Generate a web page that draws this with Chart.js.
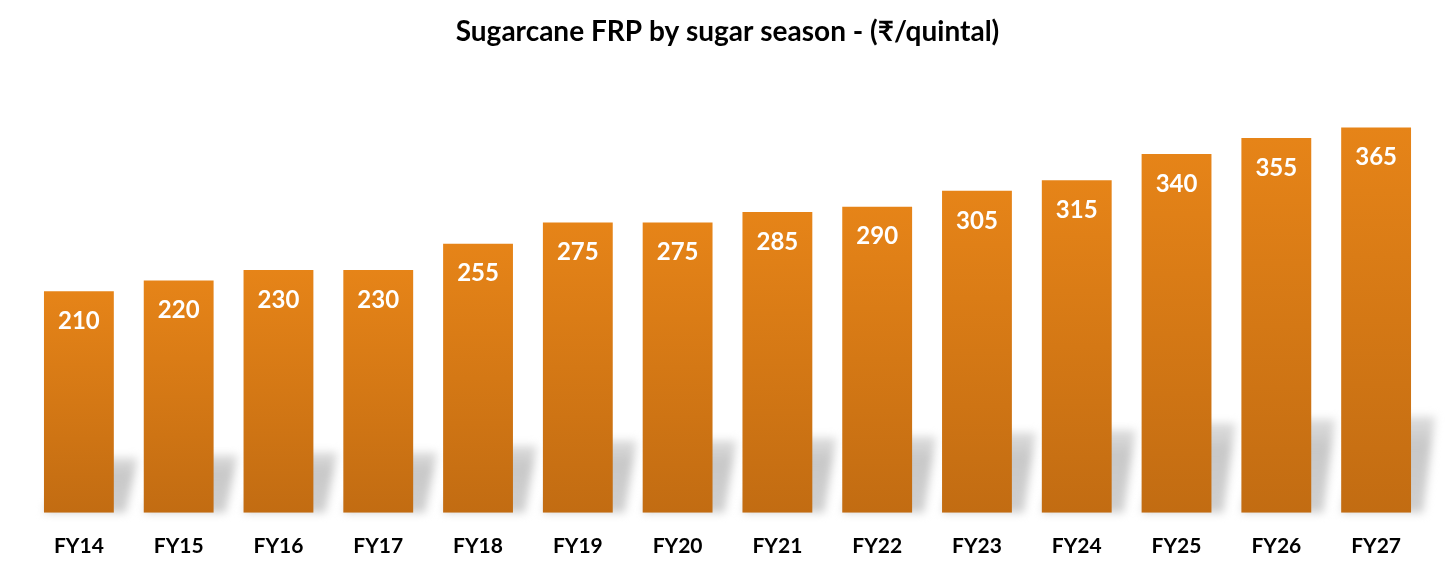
<!DOCTYPE html>
<html>
<head>
<meta charset="utf-8">
<script src="https://cdn.jsdelivr.net/npm/chart.js@4"></script>
<style>
  html, body { margin: 0; padding: 0; background: #fff; }
  #wrap { width: 1456px; height: 576px; }
</style>
</head>
<body>
<div id="wrap"><canvas id="frpChart"></canvas></div>
<script>
// === Donnees ===
const seasons = ['FY14', 'FY15', 'FY16', 'FY17', 'FY18', 'FY19', 'FY20', 'FY21', 'FY22', 'FY23', 'FY24', 'FY25', 'FY26', 'FY27'];
const frpValues = [210, 220, 230, 230, 255, 275, 275, 285, 290, 305, 315, 340, 355, 365];
const chartTitle = 'Sugarcane FRP by sugar season - (\u20B9/quintal)';

// === Ombres derriere les barres ===
const barShadows = {
  id: 'barShadows',
  beforeDatasetsDraw(chart) {
    const ctx = chart.ctx;
    const base = chart.scales.y.getPixelForValue(0);
    ctx.save();
    ctx.filter = 'blur(4px)';
    chart.getDatasetMeta(0).data.forEach(bar => {
      const half = bar.width / 2;
      const h = (base - bar.y) * 0.25;
      const grad = ctx.createLinearGradient(0, base - h, 0, base);
      grad.addColorStop(0, 'rgba(200,200,200,0.6)');
      grad.addColorStop(0.3, 'rgba(200,200,200,1)');
      grad.addColorStop(1, 'rgba(208,208,208,1)');
      ctx.fillStyle = grad;
      ctx.beginPath();
      ctx.moveTo(bar.x - half, base);
      ctx.lineTo(bar.x + half + 12, base);
      ctx.lineTo(bar.x + half + 24, base - h);
      ctx.lineTo(bar.x - half + 24, base - h);
      ctx.closePath();
      ctx.fill();
    });
    ctx.restore();
  }
};

// === Valeurs dans les barres ===
const barValues = {
  id: 'barValues',
  afterDatasetsDraw(chart) {
    const ctx = chart.ctx;
    const data = chart.data.datasets[0].data;
    ctx.save();
    ctx.fillStyle = '#ffffff';
    ctx.font = 'bold 24px Lato, "Noto Sans", sans-serif';
    ctx.textAlign = 'center';
    ctx.textBaseline = 'middle';
    chart.getDatasetMeta(0).data.forEach((bar, i) => {
      ctx.fillText(data[i], bar.x, bar.y + 30);
    });
    ctx.restore();
  }
};

function barGradient(context) {
  const chart = context.chart;
  const y = chart.scales.y;
  if (!chart.chartArea || !y || context.type !== 'data') return '#D97A16';
  const top = y.getPixelForValue(context.raw);
  const bottom = y.getPixelForValue(0);
  if (!isFinite(top) || !isFinite(bottom)) return '#D97A16';
  const g = chart.ctx.createLinearGradient(0, top, 0, bottom);
  g.addColorStop(0, '#E68418');
  g.addColorStop(1, '#C26C12');
  return g;
}

const ctx = document.getElementById('frpChart').getContext('2d');
new Chart(ctx, {
  type: 'bar',
  data: {
    labels: seasons,
    datasets: [{
      data: frpValues,
      backgroundColor: barGradient,
      borderWidth: 0,
      barPercentage: 0.7,
      categoryPercentage: 1
    }]
  },
  options: {
    responsive: true,
    maintainAspectRatio: false,
    animation: false,
    layout: { padding: { left: 29, right: 30, top: 0, bottom: -4 } },
    scales: {
      x: {
        grid: { display: false, drawTicks: false },
        border: { display: false },
        ticks: {
          color: '#000',
          padding: 21,
          font: { family: 'Lato, "Noto Sans", sans-serif', size: 21, weight: 'bold' }
        }
      },
      y: {
        display: false,
        min: 0,
        max: 400
      }
    },
    plugins: {
      legend: { display: false },
      tooltip: { enabled: false },
      title: {
        display: true,
        text: chartTitle,
        color: '#000',
        font: { family: 'Lato, "Noto Sans", sans-serif', size: 28, weight: 'bold' },
        padding: { top: 15, bottom: 42 }
      }
    }
  },
  plugins: [barShadows, barValues]
});
</script>
</body>
</html>
